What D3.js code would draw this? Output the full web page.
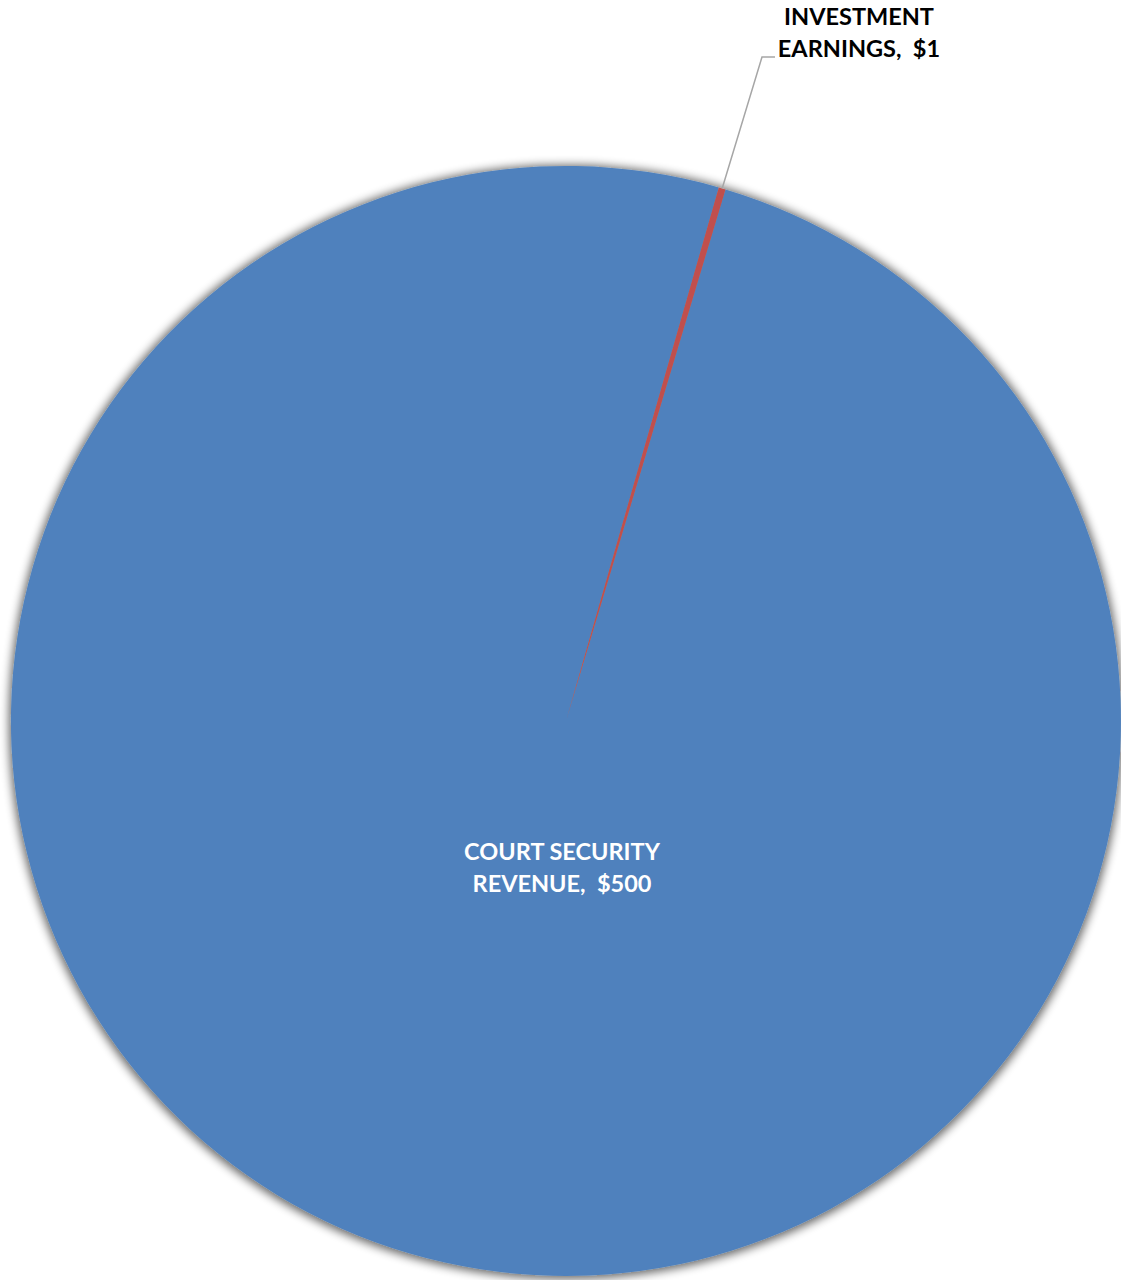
<!DOCTYPE html>
<html>
<head>
<meta charset="utf-8">
<script src="https://cdn.jsdelivr.net/npm/d3@7"></script>
<style>
  html, body { margin: 0; padding: 0; background: #ffffff; }
  svg { display: block; }
  text { white-space: pre; }
</style>
</head>
<body>
<svg id="chart" width="1121" height="1280"></svg>
<script>
// Revenue sources (dollars)
const categories = ["COURT SECURITY REVENUE", "INVESTMENT EARNINGS"];
const values = [500, 1];
const labelLines = [["COURT SECURITY", "REVENUE,  $500"], ["INVESTMENT", "EARNINGS,  $1"]];
const colors = ["#4F81BD", "#C0504D"];

const svg = d3.select("#chart");
const cx = 566, cy = 721, radius = 555;
const rotation = 16.7 * Math.PI / 180;

// Soft outer shadow around the pie
const defs = svg.append("defs");
const shadow = defs.append("filter").attr("id", "glow")
  .attr("x", "-10%").attr("y", "-10%").attr("width", "120%").attr("height", "120%");
shadow.append("feMorphology").attr("in", "SourceAlpha").attr("operator", "dilate").attr("radius", 2).attr("result", "d");
shadow.append("feGaussianBlur").attr("in", "d").attr("stdDeviation", 5).attr("result", "b");
shadow.append("feOffset").attr("in", "b").attr("dx", 0).attr("dy", 1).attr("result", "o");
shadow.append("feComponentTransfer").attr("in", "o").attr("result", "s")
  .append("feFuncA").attr("type", "linear").attr("slope", 0.6);
const merge = shadow.append("feMerge");
merge.append("feMergeNode").attr("in", "s");
merge.append("feMergeNode").attr("in", "SourceGraphic");

const pie = d3.pie().value(d => d).sort(null)
  .startAngle(rotation).endAngle(rotation + 2 * Math.PI);
const arcs = pie(values);
const arc = d3.arc().innerRadius(0).outerRadius(radius);

const g = svg.append("g").attr("transform", `translate(${cx},${cy})`);
g.append("g").attr("filter", "url(#glow)")
  .selectAll("path").data(arcs).join("path")
  .attr("d", arc)
  .attr("fill", (d, i) => colors[i]);

const font = "Lato, 'Open Sans', sans-serif";

// Label inside the large slice
g.append("text")
  .attr("text-anchor", "middle")
  .attr("font-family", font).attr("font-weight", "bold")
  .attr("font-size", 23.5).attr("fill", "#ffffff")
  .selectAll("tspan").data(labelLines[0]).join("tspan")
  .attr("x", -4).attr("y", (d, i) => 139 + i * 32)
  .text(d => d);

// Callout for the small slice
const small = arcs[1];
const mid = (small.startAngle + small.endAngle) / 2;
const edge = [Math.sin(mid) * radius, -Math.cos(mid) * radius];
const elbow = [196, -664];
const end = [209, -664];
g.append("polyline")
  .attr("points", [edge, elbow, end].map(p => p.join(",")).join(" "))
  .attr("fill", "none").attr("stroke", "#a6a6a6").attr("stroke-width", 1.5);

g.append("text")
  .attr("text-anchor", "middle")
  .attr("font-family", font).attr("font-weight", "bold")
  .attr("font-size", 23.5).attr("fill", "#000000")
  .selectAll("tspan").data(labelLines[1]).join("tspan")
  .attr("x", 293).attr("y", (d, i) => -696 + i * 32)
  .text(d => d);
</script>
</body>
</html>
